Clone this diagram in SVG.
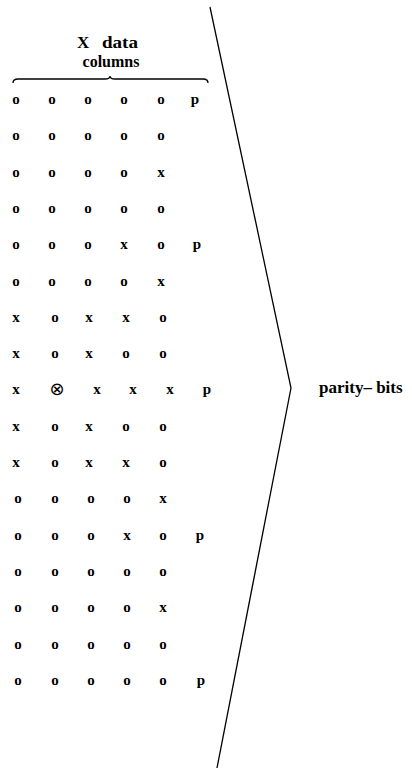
<svg xmlns="http://www.w3.org/2000/svg" width="412" height="771" viewBox="0 0 412 771">
<style>
text{font-family:"Liberation Serif","Times New Roman",serif;font-weight:bold;fill:#000;}
.g{font-size:15px;text-anchor:middle;}
.t{font-size:17px;}
.otimes{font-family:"DejaVu Sans",sans-serif;font-weight:normal;font-size:18px;text-anchor:middle;}
.ln{fill:none;stroke:#000;stroke-width:1.3;}
</style>
<rect width="412" height="771" fill="#fff"/>
<g id="title">
<text class="t" y="48"><tspan x="77">X</tspan><tspan x="102" textLength="36" lengthAdjust="spacingAndGlyphs">data</tspan></text>
<text x="111" y="67" style="font-size:16px;text-anchor:middle">columns</text>
</g>
<g id="brace">
<path class="ln" stroke-width="1" d="M13,83 Q13,79 18,79 L105,79 Q110,79 110,76 Q110,79 115,79 L203,79 Q208,79 208,83"/>
</g>
<g id="grid">
<text class="g" y="104"><tspan x="16">o</tspan><tspan x="52">o</tspan><tspan x="88">o</tspan><tspan x="124">o</tspan><tspan x="161">o</tspan><tspan x="195">p</tspan></text>
<text class="g" y="140"><tspan x="16">o</tspan><tspan x="52">o</tspan><tspan x="88">o</tspan><tspan x="124">o</tspan><tspan x="161">o</tspan></text>
<text class="g" y="177"><tspan x="16">o</tspan><tspan x="52">o</tspan><tspan x="88">o</tspan><tspan x="124">o</tspan><tspan x="161">x</tspan></text>
<text class="g" y="213"><tspan x="16">o</tspan><tspan x="52">o</tspan><tspan x="88">o</tspan><tspan x="124">o</tspan><tspan x="161">o</tspan></text>
<text class="g" y="249"><tspan x="16">o</tspan><tspan x="52">o</tspan><tspan x="88">o</tspan><tspan x="124">x</tspan><tspan x="161">o</tspan><tspan x="197">p</tspan></text>
<text class="g" y="286"><tspan x="16">o</tspan><tspan x="52">o</tspan><tspan x="88">o</tspan><tspan x="124">o</tspan><tspan x="161">x</tspan></text>
<text class="g" y="322"><tspan x="16">x</tspan><tspan x="55">o</tspan><tspan x="89">x</tspan><tspan x="126">x</tspan><tspan x="163">o</tspan></text>
<text class="g" y="358"><tspan x="16">x</tspan><tspan x="55">o</tspan><tspan x="89">x</tspan><tspan x="126">o</tspan><tspan x="163">o</tspan></text>
<text class="g" y="394"><tspan x="16">x</tspan><tspan x="97">x</tspan><tspan x="133">x</tspan><tspan x="170">x</tspan><tspan x="207">p</tspan></text>
<text class="otimes" x="57" y="395">⊗</text>
<text class="g" y="431"><tspan x="16">x</tspan><tspan x="55">o</tspan><tspan x="89">x</tspan><tspan x="126">o</tspan><tspan x="163">o</tspan></text>
<text class="g" y="467"><tspan x="16">x</tspan><tspan x="55">o</tspan><tspan x="89">x</tspan><tspan x="126">x</tspan><tspan x="163">o</tspan></text>
<text class="g" y="503"><tspan x="18">o</tspan><tspan x="55">o</tspan><tspan x="91">o</tspan><tspan x="127">o</tspan><tspan x="163">x</tspan></text>
<text class="g" y="540"><tspan x="18">o</tspan><tspan x="55">o</tspan><tspan x="91">o</tspan><tspan x="127">x</tspan><tspan x="163">o</tspan><tspan x="200">p</tspan></text>
<text class="g" y="576"><tspan x="18">o</tspan><tspan x="55">o</tspan><tspan x="91">o</tspan><tspan x="127">o</tspan><tspan x="163">o</tspan></text>
<text class="g" y="612"><tspan x="18">o</tspan><tspan x="55">o</tspan><tspan x="91">o</tspan><tspan x="127">o</tspan><tspan x="163">x</tspan></text>
<text class="g" y="649"><tspan x="18">o</tspan><tspan x="55">o</tspan><tspan x="91">o</tspan><tspan x="127">o</tspan><tspan x="163">o</tspan></text>
<text class="g" y="685"><tspan x="18">o</tspan><tspan x="55">o</tspan><tspan x="91">o</tspan><tspan x="127">o</tspan><tspan x="163">o</tspan><tspan x="201">p</tspan></text>
</g>
<g id="bracket">
<path class="ln" d="M210,7 L291,388 L217,768"/>
</g>
<g id="label">
<text x="319" y="393" style="font-size:17px">parity– bits</text>
</g>
</svg>
